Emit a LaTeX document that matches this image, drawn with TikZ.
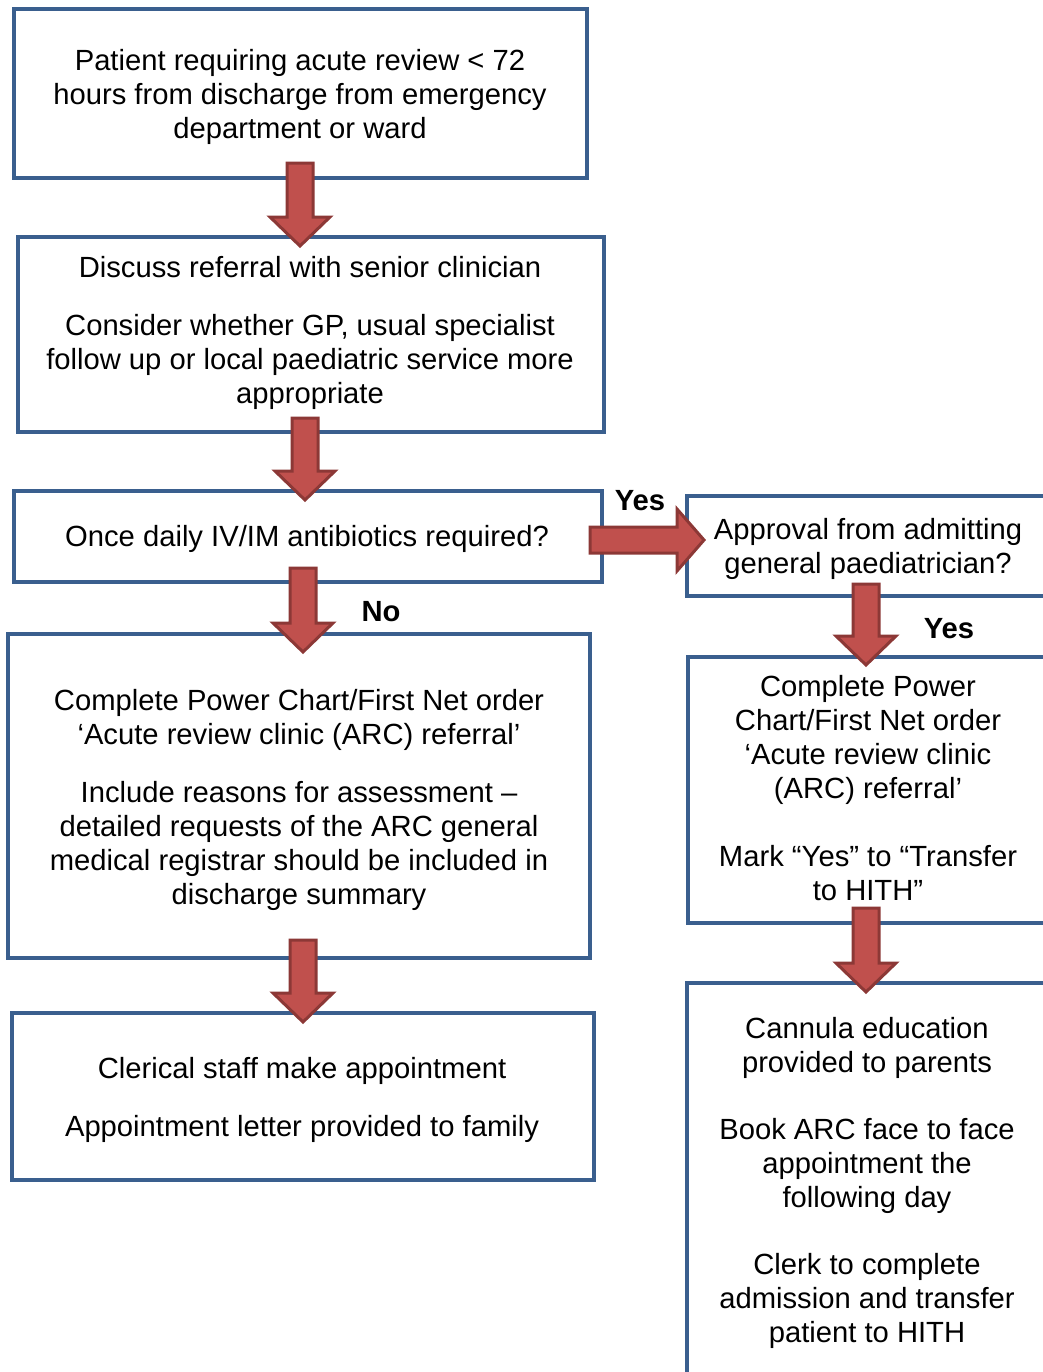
\documentclass[tikz,border=0pt]{standalone}
\usepackage{fontspec}
\setmainfont{Liberation Sans}
\usetikzlibrary{fit}
\definecolor{boxblue}{HTML}{3A5F8E}
\definecolor{arrfill}{HTML}{C0504D}
\definecolor{arrline}{HTML}{8C3836}
\tikzset{
  box/.style={draw=boxblue, line width=3pt, inner sep=0pt, fill=white},
  txt/.style={align=center, inner sep=0pt, font=\fontsize{21.9}{25.5}\selectfont},
  lbl/.style={inner sep=0pt, font=\fontsize{21.9}{25.5}\selectfont\bfseries},
  blockarrow/.style={fill=arrfill, draw=arrline, line width=2.25pt, line join=miter}
}
\newcommand\dnarrow[3]{\draw[blockarrow] ({#1-13},#2) -- ({#1+13},#2) -- ({#1+13},{#3-29}) -- ({#1+30},{#3-29}) -- (#1,#3) -- ({#1-30},{#3-29}) -- ({#1-13},{#3-29}) -- cycle;}
\begin{document}
\begin{tikzpicture}[x=0.75pt, y=-0.75pt]
\useasboundingbox (0,0) rectangle (1043,1372);
\clip (0,0) rectangle (1043,1372);
% boxes
\node[box, fit={(14,9)(587,178)}] (b1) {};
\node[box, fit={(18,237)(604,432)}] (b2) {};
\node[box, fit={(14,491)(602,582)}] (b3) {};
\node[box, fit={(8,634)(590,958)}] (b4) {};
\node[box, fit={(12,1013)(594,1180)}] (b5) {};
\node[box, fit={(687,496)(1070,596)}] (r1) {};
\node[box, fit={(688,657)(1070,923)}] (r2) {};
\node[box, fit={(687,983)(1070,1400)}] (r3) {};
% texts
\node[txt] (t1) at (300,96.5) {Patient requiring acute review < 72\\hours from discharge from emergency\\department or ward};
\node[txt] (t2) at (310,332.5) {Discuss referral with senior clinician\\[18pt]Consider whether GP, usual specialist\\follow up or local paediatric service more\\appropriate};
\node[txt] (t3) at (307,539) {Once daily IV/IM antibiotics required?};
\node[txt] (t4) at (299,799.5) {Complete Power Chart/First Net order\\‘Acute review clinic (ARC) referral’\\[18pt]Include reasons for assessment –\\detailed requests of the ARC general\\medical registrar should be included in\\discharge summary};
\node[txt] (t5) at (302,1100) {Clerical staff make appointment\\[18pt]Appointment letter provided to family};
\node[txt] (tr1) at (868,549) {Approval from admitting\\general paediatrician?};
\node[txt] (tr2) at (868,788) {Complete Power\\Chart/First Net order\\‘Acute review clinic\\(ARC) referral’\\[25pt]Mark “Yes” to “Transfer\\to HITH”};
\node[txt] (tr3) at (867,1183) {Cannula education\\provided to parents\\[25pt]Book ARC face to face\\appointment the\\following day\\[25pt]Clerk to complete\\admission and transfer\\patient to HITH};
% arrows
\dnarrow{300}{163}{246}
\dnarrow{305}{418}{500}
\dnarrow{303}{568}{652}
\dnarrow{303}{940}{1022}
\dnarrow{866}{584}{665}
\dnarrow{866}{908}{992}
\draw[blockarrow] (590,527) -- (677,527) -- (677,509) -- (704,540) -- (677,571) -- (677,553) -- (590,553) -- cycle;
% labels
\node[lbl] (yes1) at (640,501) {Yes};
\node[lbl] (no1) at (381,612) {No};
\node[lbl] (yes2) at (949,629) {Yes};
\end{tikzpicture}
\end{document}
